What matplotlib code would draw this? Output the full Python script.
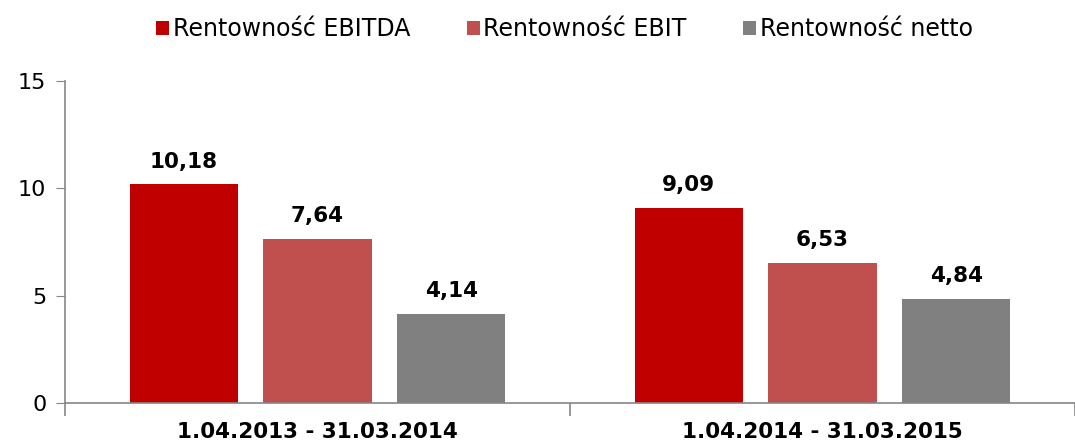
import numpy as np
import matplotlib.pyplot as plt
from matplotlib.ticker import FixedLocator

periods = ['1.04.2013 - 31.03.2014', '1.04.2014 - 31.03.2015']
series = ['Rentowność EBITDA', 'Rentowność EBIT', 'Rentowność netto']
ebitda = [10.18, 9.09]
ebit = [7.64, 6.53]
netto = [4.14, 4.84]
colors = ['#C00000', '#C0504D', '#808080']

fig = plt.figure(figsize=(10.75, 4.46), dpi=100)
ax = fig.add_axes([0.0605, 0.0964, 0.9395, 0.722])

x = np.arange(len(periods))
width = 0.214
offsets = [-0.265, 0, 0.265]

for vals, off, col, lab in zip([ebitda, ebit, netto], offsets, colors, series):
    bars = ax.bar(x + off, vals, width, color=col, label=lab)
    for b, v in zip(bars, vals):
        ax.text(b.get_x() + b.get_width() / 2, v + 0.6, f'{v:.2f}'.replace('.', ','),
                ha='center', va='bottom', fontsize=15.5, fontweight='bold')

ax.set_xlim(-0.5, 1.5)
ax.set_ylim(0, 15)
ax.set_yticks([0, 5, 10, 15])
ax.tick_params(axis='y', labelsize=16, length=6.5, color='#868686', pad=7)
ax.set_xticks(x)
ax.set_xticklabels(periods, fontsize=15.5, fontweight='bold')
ax.tick_params(axis='x', which='major', length=0, pad=14)
ax.xaxis.set_minor_locator(FixedLocator([-0.5, 0.5, 1.5]))
ax.tick_params(axis='x', which='minor', length=9, color='#868686', width=1.2)

for s in ['top', 'right']:
    ax.spines[s].set_visible(False)
for s in ['left', 'bottom']:
    ax.spines[s].set_color('#868686')
    ax.spines[s].set_linewidth(1.2)

fig.legend(loc='center', bbox_to_anchor=(0.525, 0.935), ncol=3, frameon=False,
           fontsize=17, handlelength=0.55, handleheight=0.55, handletextpad=0.15,
           columnspacing=2.4)

fig.savefig('out.png', dpi=100)
